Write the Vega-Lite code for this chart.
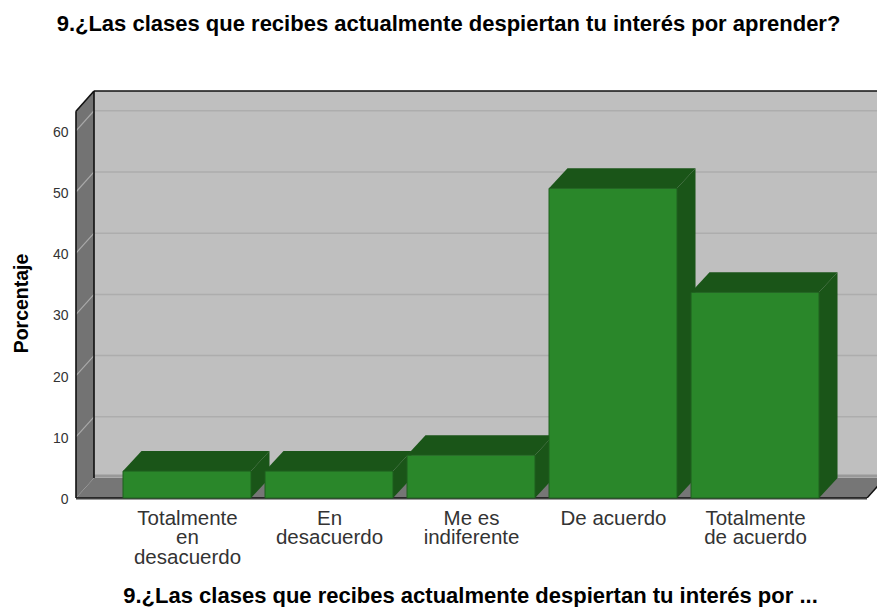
{
"$schema":"https://vega.github.io/schema/vega-lite/v6.json",
"width":801,"height":407,
"autosize":{"type":"none"},
"padding":{"left":76,"top":91,"right":0,"bottom":109},
"background":"white",
"config":{"view":{"stroke":null}},
"title":{"text":"9.¿Las clases que recibes actualmente despiertan tu interés por aprender?","font":"Liberation Sans","fontSize":22,"fontWeight":"bold","color":"#000000","anchor":"middle","dx":-28,"offset":54},
"data":{"name":"marco","values":[{"xi":0.2183,"xf":0.3451,"xd":5.859,"xs":5.789,"xe":5.915,"e":3.27,"t":66.5,"s":63.2}]},
"datasets":{
"respuestas":[
{"categoria":"Totalmente en desacuerdo","porcentaje":4.4},
{"categoria":"En desacuerdo","porcentaje":4.4},
{"categoria":"Me es indiferente","porcentaje":7.0},
{"categoria":"De acuerdo","porcentaje":50.6},
{"categoria":"Totalmente de acuerdo","porcentaje":33.6}
],
"marcas":[{"v":0},{"v":10},{"v":20},{"v":30},{"v":40},{"v":50},{"v":60}]
},
"layer":[
{"mark":{"type":"rect","color":"#bfbfbf"},
 "encoding":{
  "x":{"field":"xf","type":"quantitative","scale":{"domain":[0.2183,5.859],"nice":false,"zero":false},
   "axis":{"values":[1,2,3,4,5],"title":"9.¿Las clases que recibes actualmente despiertan tu interés por ...","titleFont":"Liberation Sans","titleFontSize":22,"titleFontWeight":"bold","titleColor":"#000000","titleX":394,"titleY":97.5,"titleBaseline":"middle",
    "domain":false,"ticks":false,"grid":false,"labelFont":"Liberation Sans","labelFontSize":20.5,"labelColor":"#333333","labelLineHeight":19.6,"labelPadding":10,"labelOverlap":false,"labelFlush":false,"labelBound":false,"labelAngle":0,
    "labelExpr":"datum.value==1?['Totalmente','en','desacuerdo']:datum.value==2?['En','desacuerdo']:datum.value==3?['Me es','indiferente']:datum.value==4?['De acuerdo']:['Totalmente','de acuerdo']"}},
  "x2":{"field":"xd"},
  "y":{"field":"e","type":"quantitative","scale":{"domain":[0,66.5],"nice":false,"zero":false},
   "axis":{"values":[0,10,20,30,40,50,60],"title":"Porcentaje","titleFont":"Liberation Sans","titleFontSize":19.5,"titleFontWeight":"bold","titleColor":"#000000","titleX":-55,"titleY":212,"titleAngle":-90,"titleBaseline":"middle",
    "domain":false,"ticks":false,"grid":false,"labelFont":"Liberation Sans","labelFontSize":14,"labelColor":"#333333","labelPadding":8,"labelOffset":1.5}},
  "y2":{"field":"t"}}},
{"data":{"name":"marcas"},"transform":[{"calculate":"datum.v+3.27","as":"vf"},{"calculate":"0.3451","as":"xa"},{"calculate":"5.859","as":"xb"},{"filter":"datum.v>0"}],
 "mark":{"type":"rule","color":"#adadad","strokeWidth":1.5},
 "encoding":{"x":{"field":"xa","type":"quantitative"},"x2":{"field":"xb"},"y":{"field":"vf","type":"quantitative"}}},
{"transform":[{"calculate":"3.6","as":"b"}],"mark":{"type":"rule","color":"#999999","strokeWidth":3},
 "encoding":{"x":{"field":"xf","type":"quantitative"},"x2":{"field":"xd"},"y":{"field":"b","type":"quantitative"}}},
{"data":{"values":[{"pared":"lateral"}]},
 "transform":[{"calculate":"[0.2183,0.3451]","as":"px"},{"calculate":"[0,3.27]","as":"lo"},{"calculate":"[63.2,66.5]","as":"hi"},{"flatten":["px","lo","hi"]}],
 "mark":{"type":"area","color":"#737373","opacity":1},
 "encoding":{"x":{"field":"px","type":"quantitative"},"y":{"field":"lo","type":"quantitative"},"y2":{"field":"hi"}}},
{"data":{"values":[{"pared":"suelo"}]},
 "transform":[{"calculate":"[0.2183,0.3451,5.789,5.915]","as":"px"},{"calculate":"[0,0,0,3.27]","as":"lo"},{"calculate":"[0,3.27,3.27,3.27]","as":"hi"},{"flatten":["px","lo","hi"]}],
 "mark":{"type":"area","color":"#767676","opacity":1,"clip":true},
 "encoding":{"x":{"field":"px","type":"quantitative"},"y":{"field":"lo","type":"quantitative"},"y2":{"field":"hi"}}},
{"data":{"name":"marcas"},"transform":[{"calculate":"datum.v+3.27","as":"vf"},{"calculate":"0.2183","as":"xa"},{"calculate":"0.3451","as":"xb"},{"filter":"datum.v>0"}],
 "mark":{"type":"rule","color":"#a9a9a9","strokeWidth":1.2},
 "encoding":{"x":{"field":"xa","type":"quantitative"},"x2":{"field":"xb"},"y":{"field":"v","type":"quantitative"},"y2":{"field":"vf"}}},
{"mark":{"type":"rule","color":"#111111","strokeWidth":1.6},
 "encoding":{"x":{"field":"xf","type":"quantitative"},"x2":{"field":"xd"},"y":{"field":"t","type":"quantitative"}}},
{"mark":{"type":"rule","color":"#111111","strokeWidth":1.6},
 "encoding":{"x":{"field":"xf","type":"quantitative"},"y":{"field":"e","type":"quantitative"},"y2":{"field":"t"}}},
{"transform":[{"calculate":"0","as":"o"}],"mark":{"type":"rule","color":"#111111","strokeWidth":1.6},
 "encoding":{"x":{"field":"xi","type":"quantitative"},"y":{"field":"o","type":"quantitative"},"y2":{"field":"s"}}},
{"mark":{"type":"rule","color":"#111111","strokeWidth":1.6},
 "encoding":{"x":{"field":"xi","type":"quantitative"},"x2":{"field":"xf"},"y":{"field":"s","type":"quantitative"},"y2":{"field":"t"}}},
{"transform":[{"calculate":"-0.2","as":"o"}],"mark":{"type":"rule","color":"#9c9c9c","strokeWidth":1.5},
 "encoding":{"x":{"field":"xi","type":"quantitative"},"x2":{"field":"xs"},"y":{"field":"o","type":"quantitative"}}},
{"transform":[{"calculate":"0","as":"o"}],"mark":{"type":"rule","color":"#111111","strokeWidth":1.6},
 "encoding":{"x":{"field":"xi","type":"quantitative"},"x2":{"field":"xs"},"y":{"field":"o","type":"quantitative"}}},
{"transform":[{"calculate":"0","as":"o"}],"mark":{"type":"rule","color":"#111111","strokeWidth":1.4,"clip":true},
 "encoding":{"x":{"field":"xs","type":"quantitative"},"x2":{"field":"xe"},"y":{"field":"o","type":"quantitative"},"y2":{"field":"e"}}},
{"data":{"name":"respuestas"},
 "transform":[{"window":[{"op":"row_number","as":"pos"}]},
  {"calculate":"[datum.pos+0.4507,datum.pos+0.5810]","as":"px"},
  {"calculate":"[0,3.27]","as":"lo"},
  {"calculate":"[datum.porcentaje,datum.porcentaje+3.27]","as":"hi"},
  {"flatten":["px","lo","hi"]}],
 "mark":{"type":"area","color":"#1a5518","opacity":1,"clip":true},
 "encoding":{"x":{"field":"px","type":"quantitative"},"y":{"field":"lo","type":"quantitative"},"y2":{"field":"hi"},"detail":{"field":"categoria"}}},
{"data":{"name":"respuestas"},
 "transform":[{"window":[{"op":"row_number","as":"pos"}]},
  {"calculate":"[datum.pos-0.4507,datum.pos-0.3204,datum.pos+0.4507,datum.pos+0.5810]","as":"px"},
  {"calculate":"[datum.porcentaje,datum.porcentaje,datum.porcentaje,datum.porcentaje+3.27]","as":"lo"},
  {"calculate":"[datum.porcentaje,datum.porcentaje+3.27,datum.porcentaje+3.27,datum.porcentaje+3.27]","as":"hi"},
  {"flatten":["px","lo","hi"]}],
 "mark":{"type":"area","color":"#1a5518","opacity":1,"clip":true},
 "encoding":{"x":{"field":"px","type":"quantitative"},"y":{"field":"lo","type":"quantitative"},"y2":{"field":"hi"},"detail":{"field":"categoria"}}},
{"data":{"name":"respuestas"},
 "transform":[{"window":[{"op":"row_number","as":"pos"}]},
  {"calculate":"datum.pos-0.4507","as":"xa"},{"calculate":"datum.pos+0.4507","as":"xb"},{"calculate":"0","as":"o"}],
 "mark":{"type":"rect","color":"#2a872a","stroke":"#1f5f1f","strokeWidth":1},
 "encoding":{"x":{"field":"xa","type":"quantitative"},"x2":{"field":"xb"},"y":{"field":"o","type":"quantitative"},"y2":{"field":"porcentaje"}}}
]
}
